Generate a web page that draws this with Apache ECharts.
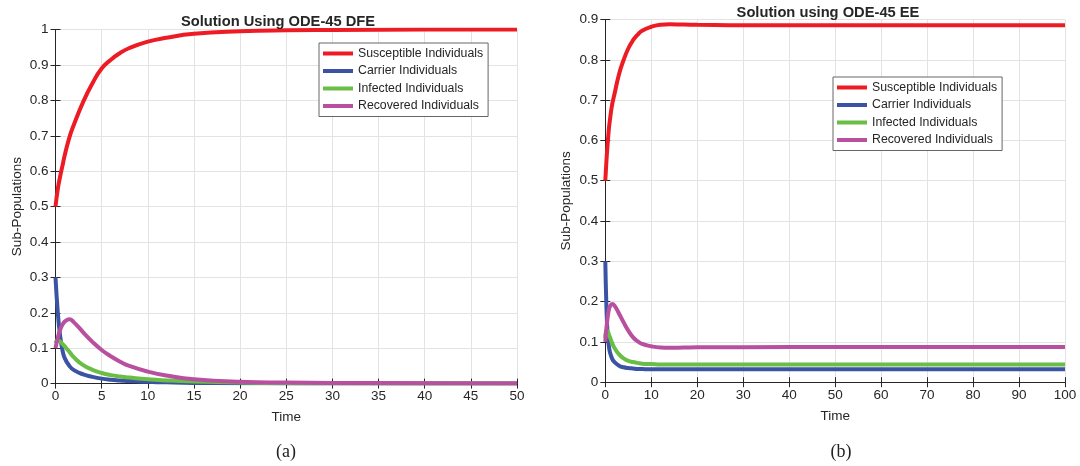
<!DOCTYPE html>
<html>
<head>
<meta charset="utf-8">
<script src="https://cdn.jsdelivr.net/npm/echarts@6/dist/echarts.min.js"></script>
<style>
  html, body { margin: 0; padding: 0; background: #fff; }
  #chart { width: 1080px; height: 466px; }
</style>
</head>
<body>
<div id="chart"></div>
<script>
// panel (a) - DFE
var timeA = [0, 0.25, 0.5, 0.75, 1, 1.5, 2, 3, 4, 5, 6, 7, 8, 10, 12, 15, 20, 25, 30, 40, 50];
var suscA = [0.5, 0.55, 0.585, 0.615, 0.645, 0.695, 0.732, 0.796, 0.848, 0.89, 0.915, 0.934, 0.948, 0.966, 0.977, 0.988, 0.995, 0.998, 0.999, 1.0, 1.0];
var carrA = [0.3, 0.2, 0.135, 0.095, 0.072, 0.05, 0.038, 0.026, 0.019, 0.014, 0.011, 0.009, 0.007, 0.005, 0.0035, 0.002, 0.001, 0.0005, 0.0003, 0.0001, 0];
var inftA = [0.115, 0.122, 0.119, 0.112, 0.105, 0.09, 0.074, 0.052, 0.039, 0.03, 0.024, 0.02, 0.017, 0.012, 0.009, 0.006, 0.003, 0.0015, 0.001, 0.0003, 0.0001];
var recvA = [0.1, 0.13, 0.152, 0.166, 0.175, 0.182, 0.173, 0.145, 0.118, 0.095, 0.077, 0.062, 0.05, 0.034, 0.023, 0.012, 0.005, 0.003, 0.002, 0.001, 0.0005];

// panel (b) - EE
var timeB = [0, 0.25, 0.5, 0.75, 1, 1.5, 2, 3, 4, 5, 6, 7, 8, 10, 12, 14, 17, 20, 30, 50, 75, 100];
var suscB = [0.5, 0.55, 0.59, 0.625, 0.65, 0.69, 0.715, 0.765, 0.8, 0.828, 0.848, 0.862, 0.872, 0.882, 0.887, 0.888, 0.8875, 0.887, 0.886, 0.886, 0.886, 0.886];
var carrB = [0.3, 0.185, 0.12, 0.092, 0.075, 0.058, 0.05, 0.041, 0.037, 0.035, 0.034, 0.033, 0.0325, 0.032, 0.032, 0.032, 0.032, 0.032, 0.032, 0.032, 0.032, 0.032];
var inftB = [0.11, 0.128, 0.127, 0.12, 0.112, 0.097, 0.085, 0.069, 0.059, 0.053, 0.05, 0.048, 0.046, 0.045, 0.044, 0.044, 0.044, 0.044, 0.044, 0.044, 0.044, 0.044];
var recvB = [0.1, 0.135, 0.16, 0.178, 0.188, 0.194, 0.19, 0.17, 0.148, 0.128, 0.112, 0.102, 0.095, 0.089, 0.086, 0.0855, 0.086, 0.0865, 0.087, 0.0873, 0.0873, 0.0873];

var names = ["Susceptible Individuals", "Carrier Individuals", "Infected Individuals", "Recovered Individuals"];
var colors = ["#ED1C24", "#3A53A4", "#6ABD45", "#B8509F"];

function pairs(t, v) {
  return t.map(function (x, i) { return [x, v[i]]; });
}

var txt = "#262626";
var font = "Liberation Sans";

function mainX(grid, max, step) {
  return {
    type: "value", gridIndex: grid, min: 0, max: max, interval: step,
    name: "Time", nameLocation: "middle", nameGap: 27,
    nameTextStyle: { color: txt, fontSize: 13.5, fontFamily: font },
    axisLine: { lineStyle: { color: txt } },
    axisTick: { inside: true, length: 5, lineStyle: { color: txt } },
    axisLabel: { color: txt, fontSize: 13.5, fontFamily: font, margin: 6 },
    splitLine: { show: true, lineStyle: { color: "#e3e3e3" } }
  };
}
function boxX(grid, max, step) {
  return {
    type: "value", gridIndex: grid, position: "top", min: 0, max: max, interval: step,
    axisLine: { lineStyle: { color: txt } },
    axisTick: { inside: true, length: 5, lineStyle: { color: txt } },
    axisLabel: { show: false }, splitLine: { show: false }
  };
}
function mainY(grid, max, gap) {
  return {
    type: "value", gridIndex: grid, min: 0, max: max, interval: 0.1,
    name: "Sub-Populations", nameLocation: "middle", nameGap: gap,
    nameTextStyle: { color: txt, fontSize: 13.5, fontFamily: font },
    axisLine: { show: true, lineStyle: { color: txt } },
    axisTick: { show: true, inside: true, length: 5, lineStyle: { color: txt } },
    axisLabel: { color: txt, fontSize: 13.5, fontFamily: font, margin: 7 },
    splitLine: { show: true, lineStyle: { color: "#e3e3e3" } }
  };
}
function boxY(grid, max) {
  return {
    type: "value", gridIndex: grid, position: "right", min: 0, max: max, interval: 0.1,
    axisLine: { show: true, lineStyle: { color: txt } },
    axisTick: { show: true, inside: true, length: 5, lineStyle: { color: txt } },
    axisLabel: { show: false }, splitLine: { show: false }
  };
}

function lineSeries(name, color, grid, data) {
  return {
    name: name, type: "line", xAxisIndex: grid * 2, yAxisIndex: grid * 2,
    data: data, showSymbol: false, smooth: 0.5,
    lineStyle: { color: color, width: 4 }, itemStyle: { color: color }
  };
}

function legendAt(left, top) {
  return {
    orient: "vertical", left: left, top: top, data: names,
    icon: "rect", itemWidth: 30, itemHeight: 4, itemGap: 4.5, itemTextGap: 4,
    padding: [4, 5, 4, 4], borderColor: "#666", borderWidth: 1, backgroundColor: "#fff",
    textStyle: { color: txt, fontSize: 12.3, fontFamily: font, lineHeight: 13 }
  };
}

var chart = echarts.init(document.getElementById("chart"));
var option = {
  animation: false,
  title: [
    { text: "Solution Using ODE-45 DFE", left: 273, top: 9, textAlign: "center",
      textStyle: { color: txt, fontSize: 14.7, fontWeight: "bold", fontFamily: font } },
    { text: "Solution using ODE-45 EE", left: 823, top: 0, textAlign: "center",
      textStyle: { color: txt, fontSize: 14.7, fontWeight: "bold", fontFamily: font } },
    { text: "(a)", left: 281, top: 438, textAlign: "center",
      textStyle: { color: "#222", fontSize: 18, fontWeight: "normal", fontFamily: "Liberation Serif" } },
    { text: "(b)", left: 836, top: 438, textAlign: "center",
      textStyle: { color: "#222", fontSize: 18, fontWeight: "normal", fontFamily: "Liberation Serif" } }
  ],
  legend: [legendAt(319, 43), legendAt(833, 77)],
  grid: [
    { left: 55.5, right: 563, top: 29.6, bottom: 82.4 },
    { left: 605.3, right: 15, top: 19.5, bottom: 83.8 }
  ],
  xAxis: [mainX(0, 50, 5), boxX(0, 50, 5), mainX(1, 100, 10), boxX(1, 100, 10)],
  yAxis: [mainY(0, 1, 31), boxY(0, 1), mainY(1, 0.9, 32), boxY(1, 0.9)],
  series: [
    lineSeries(names[0], colors[0], 0, pairs(timeA, suscA)),
    lineSeries(names[1], colors[1], 0, pairs(timeA, carrA)),
    lineSeries(names[2], colors[2], 0, pairs(timeA, inftA)),
    lineSeries(names[3], colors[3], 0, pairs(timeA, recvA)),
    lineSeries(names[0], colors[0], 1, pairs(timeB, suscB)),
    lineSeries(names[1], colors[1], 1, pairs(timeB, carrB)),
    lineSeries(names[2], colors[2], 1, pairs(timeB, inftB)),
    lineSeries(names[3], colors[3], 1, pairs(timeB, recvB))
  ]
};
chart.setOption(option);
</script>
</body>
</html>
